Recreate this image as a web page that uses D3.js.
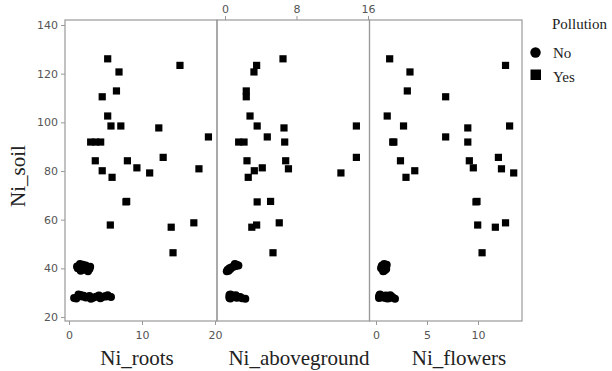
<!DOCTYPE html>
<html>
<head>
<meta charset="utf-8">
<script src="https://cdn.jsdelivr.net/npm/d3@7"></script>
<style>
  body { margin: 0; background: #fff; }
  .tick text { font-family: "DejaVu Sans", Verdana, sans-serif; font-size: 11px; fill: #555; }
  .tick line { stroke: #999; }
</style>
</head>
<body>
<div class="chart"></div>
<script>
// observations: Ni_soil, Ni_roots, Ni_aboveground, Ni_flowers, Pollution
var niSoil = [
  126.1, 123.4, 120.7, 112.9, 110.5, 102.6, 98.5, 98.5, 97.7, 94.0,
  91.9, 91.9, 91.9, 85.6, 84.2, 84.2, 81.3, 80.9, 80.1, 79.2,
  77.4, 67.3, 67.5, 58.7, 57.8, 56.9, 46.4,
  41.8, 41.2, 40.6, 40.0, 39.4, 38.8, 41.5, 40.3, 39.0, 40.8, 39.7, 41.0,
  27.8, 29.2, 28.4, 28.0, 28.6, 27.9, 28.3, 28.8, 28.1, 28.5, 28.9, 28.2,
  27.6, 28.7, 27.5, 29.0, 27.7, 28.4
];
var niRoots = [
  5.3, 15.2, 6.85, 6.5, 4.55, 5.3, 5.75, 7.1, 12.3, 19.1,
  2.97, 3.66, 4.34, 12.9, 3.6, 8.0, 9.3, 17.8, 4.55, 11.05,
  5.9, 7.8, 7.9, 17.1, 5.66, 14.0, 14.25,
  1.5, 2.3, 2.9, 1.2, 2.0, 2.6, 1.9, 2.5, 1.6, 1.1, 2.8, 2.2,
  0.7, 1.3, 1.8, 2.3, 2.8, 3.3, 3.7, 4.1, 4.5, 4.9, 5.3, 5.75,
  1.0, 2.0, 3.0, 1.6, 4.3, 5.1
];
var niAboveground = [
  6.49, 3.54, 3.24, 2.38, 2.38, 2.8, 3.6, 14.7, 6.6, 4.73,
  1.53, 2.13, 6.68, 14.7, 2.46, 6.79, 4.17, 7.1, 3.28, 12.97,
  2.6, 3.6, 5.1, 6.07, 3.54, 3.0, 5.37,
  1.1, 1.5, 0.9, 0.5, 0.3, 0.2, 1.3, 0.7, 0.4, 1.0, 0.6, 1.2,
  0.5, 0.6, 0.9, 0.7, 1.1, 1.3, 0.5, 0.8, 1.5, 1.0, 1.2, 1.7,
  0.6, 0.9, 2.27, 0.5, 1.9, 0.7
];
var niFlowers = [
  1.34, 12.7, 3.33, 3.07, 6.83, 1.1, 2.7, 13.1, 9.0, 6.83,
  1.64, 1.75, 9.0, 12.0, 2.4, 9.15, 9.54, 12.3, 3.8, 13.5,
  2.94, 9.8, 9.9, 12.7, 9.97, 11.7, 10.4,
  0.8, 0.6, 1.0, 0.5, 0.9, 0.7, 1.05, 0.6, 0.8, 0.55, 1.0, 0.75,
  0.3, 0.4, 0.5, 0.7, 0.4, 0.9, 0.6, 1.0, 1.2, 0.5, 1.4, 1.6,
  1.1, 0.8, 1.86, 0.35, 1.3, 0.3
];
var pollution = [];
for (var i = 0; i < 27; i++) pollution.push("Yes");
for (var i = 0; i < 30; i++) pollution.push("No");

var yTicks = [20, 40, 60, 80, 100, 120, 140];
var rootsTicks = [0, 10, 20];
var aboveTicks = [0, 8, 16];
var flowersTicks = [0, 5, 10];
var legendLabels = ["No", "Yes"];

var data = niSoil.map(function(d, i) {
  return { soil: d, roots: niRoots[i], above: niAboveground[i], flowers: niFlowers[i], pol: pollution[i] };
});

var width = 612, height = 371,
    plotTop = 20, plotBottom = 321;
var serif = "'Liberation Serif', 'Times New Roman', Times, serif";

var svg = d3.select(".chart").append("svg")
    .attr("width", width)
    .attr("height", height);

var y = d3.scaleLinear().domain([20, 140]).range([317, 25]);

var panels = [
  { key: "roots", title: "Ni_roots", x0: 65, x1: 217, x: d3.scaleLinear().domain([0, 20]).range([69, 215]), ticks: rootsTicks, side: "bottom", tx: 137 },
  { key: "above", title: "Ni_aboveground", x0: 217, x1: 369.5, x: d3.scaleLinear().domain([0, 16]).range([225, 368]), ticks: aboveTicks, side: "top", tx: 299 },
  { key: "flowers", title: "Ni_flowers", x0: 369.5, x1: 522, x: d3.scaleLinear().domain([0, 10]).range([376, 478]), ticks: flowersTicks, side: "bottom", tx: 459 }
];

// y axis
var yAxis = d3.axisLeft(y).tickValues(yTicks).tickSize(4).tickPadding(3);
svg.append("g")
    .attr("transform", "translate(65,0)")
    .call(yAxis)
    .call(function(g) { g.select(".domain").remove(); });

panels.forEach(function(p) {
  var axis;
  if (p.side == "bottom") {
    axis = d3.axisBottom(p.x).tickValues(p.ticks).tickSize(4).tickPadding(6);
    svg.append("g")
        .attr("transform", "translate(0," + plotBottom + ")")
        .call(axis)
        .call(function(g) { g.select(".domain").remove(); });
  } else {
    axis = d3.axisTop(p.x).tickValues(p.ticks).tickSize(4).tickPadding(3);
    svg.append("g")
        .attr("transform", "translate(0," + plotTop + ")")
        .call(axis)
        .call(function(g) { g.select(".domain").remove(); });
  }

  svg.append("rect")
      .attr("x", p.x0)
      .attr("y", plotTop)
      .attr("width", p.x1 - p.x0)
      .attr("height", plotBottom - plotTop)
      .attr("fill", "none")
      .attr("stroke", "#999")
      .attr("stroke-width", 1.2);

  svg.append("text")
      .attr("x", p.tx)
      .attr("y", 365)
      .attr("text-anchor", "middle")
      .style("font-family", serif)
      .style("font-size", "21px")
      .style("fill", "#222")
      .text(p.title);

  svg.selectAll(".sq-" + p.key)
      .data(data.filter(function(d) { return d.pol == "Yes"; }))
    .enter().append("rect")
      .attr("class", "sq-" + p.key)
      .attr("x", function(d) { return p.x(d[p.key]) - 3.6; })
      .attr("y", function(d) { return y(d.soil) - 3.6; })
      .attr("width", 7.2)
      .attr("height", 7.2)
      .attr("fill", "#000");

  svg.selectAll(".ci-" + p.key)
      .data(data.filter(function(d) { return d.pol == "No"; }))
    .enter().append("circle")
      .attr("class", "ci-" + p.key)
      .attr("cx", function(d) { return p.x(d[p.key]); })
      .attr("cy", function(d) { return y(d.soil); })
      .attr("r", 4)
      .attr("fill", "#000");
});

svg.append("text")
    .attr("transform", "translate(25,176) rotate(-90)")
    .attr("text-anchor", "middle")
    .style("font-family", serif)
    .style("font-size", "21px")
    .style("fill", "#222")
    .text("Ni_soil");

// legend
svg.append("text")
    .attr("x", 552).attr("y", 29)
    .style("font-family", serif).style("font-size", "15px").style("fill", "#222")
    .text("Pollution");
svg.append("circle").attr("cx", 535.5).attr("cy", 52.5).attr("r", 5.2).attr("fill", "#000");
svg.append("rect").attr("x", 530.5).attr("y", 69.5).attr("width", 10.5).attr("height", 10.5).attr("fill", "#000");
svg.selectAll(".legtext")
    .data(legendLabels)
  .enter().append("text")
    .attr("class", "legtext")
    .attr("x", 553)
    .attr("y", function(d, i) { return 58 + i * 23.5; })
    .style("font-family", serif).style("font-size", "15px").style("fill", "#222")
    .text(function(d) { return d; });
</script>
</body>
</html>
